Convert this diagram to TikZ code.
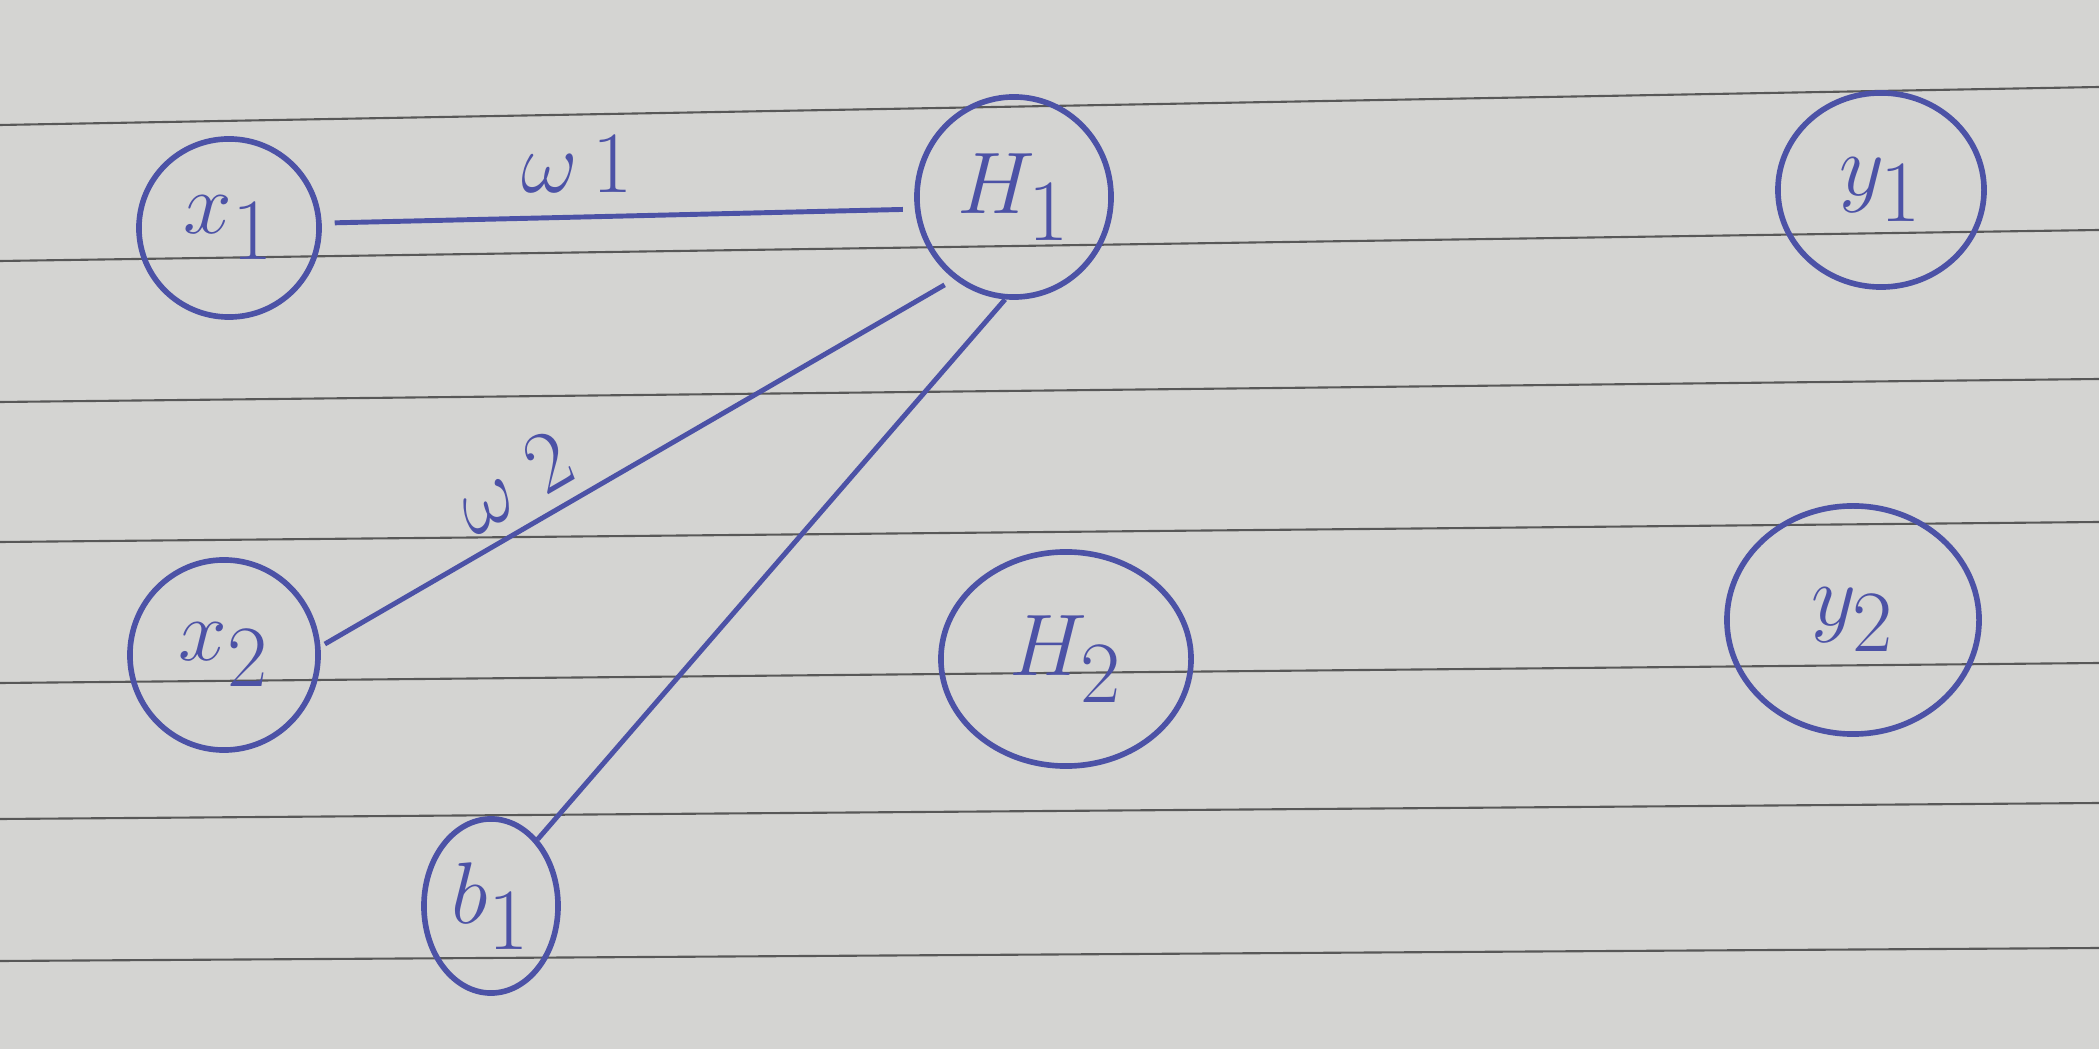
\documentclass[tikz,border=0pt]{standalone}
\usetikzlibrary{shapes.geometric}
\definecolor{penblue}{RGB}{76,82,166}
\definecolor{paper}{RGB}{212,212,210}
\definecolor{ruling}{RGB}{88,88,88}
\tikzset{
  nd/.style={ellipse, draw=penblue, line width=1.6pt, inner sep=0pt, text=penblue,
             font=\fontsize{40}{44}\selectfont},
  edge/.style={draw=penblue, line width=1.4pt},
  wlab/.style={text=penblue, font=\fontsize{24}{28}\selectfont, inner sep=2pt},
  rule/.style={draw=ruling, line width=0.6pt}
}
\begin{document}
\begin{tikzpicture}[x=0.01cm, y=-0.01cm]
  % paper
  \fill[paper] (0,0) rectangle (2099,1049);
  \useasboundingbox (0,0) rectangle (2099,1049);
  % ruled lines
  \draw[rule] (0,125) -- (2099,87);
  \draw[rule] (0,261) -- (2099,230);
  \draw[rule] (0,402) -- (2099,379);
  \draw[rule] (0,542) -- (2099,522);
  \draw[rule] (0,683) -- (2099,663);
  \draw[rule] (0,819) -- (2099,803);
  \draw[rule] (0,961) -- (2099,948);
  % nodes
  \node[nd, minimum width=1.80cm, minimum height=1.78cm] (x1) at (229,228) {$x_1$};
  \node[nd, minimum width=1.94cm, minimum height=2.00cm] (h1) at (1014,197) {$H_1$};
  \node[nd, minimum width=2.06cm, minimum height=1.94cm] (y1) at (1881,190) {$y_1$};
  \node[nd, minimum width=1.88cm, minimum height=1.90cm] (x2) at (224,655) {$x_2$};
  \node[nd, minimum width=2.50cm, minimum height=2.14cm] (h2) at (1066,659) {$H_2$};
  \node[nd, minimum width=2.52cm, minimum height=2.28cm] (y2) at (1853,620) {$y_2$};
  \node[nd, minimum width=1.34cm, minimum height=1.74cm] (b1) at (491,906) {$b_1$};
  % connectors
  \draw[edge, shorten <=0.13cm, shorten >=0.12cm] (x1.3) -- node[wlab, pos=0.43, above=0.15cm] {$\omega\,1$} (h1.187);
  \draw[edge, shorten <=0.05cm, shorten >=0.11cm] (x2.5) -- node[wlab, pos=0.34, sloped, above=0.08cm] {$\omega$\hspace{0.3em}$2$} (h1.234);
  \draw[edge] (b1.55) -- (h1.265);
\end{tikzpicture}
\end{document}
